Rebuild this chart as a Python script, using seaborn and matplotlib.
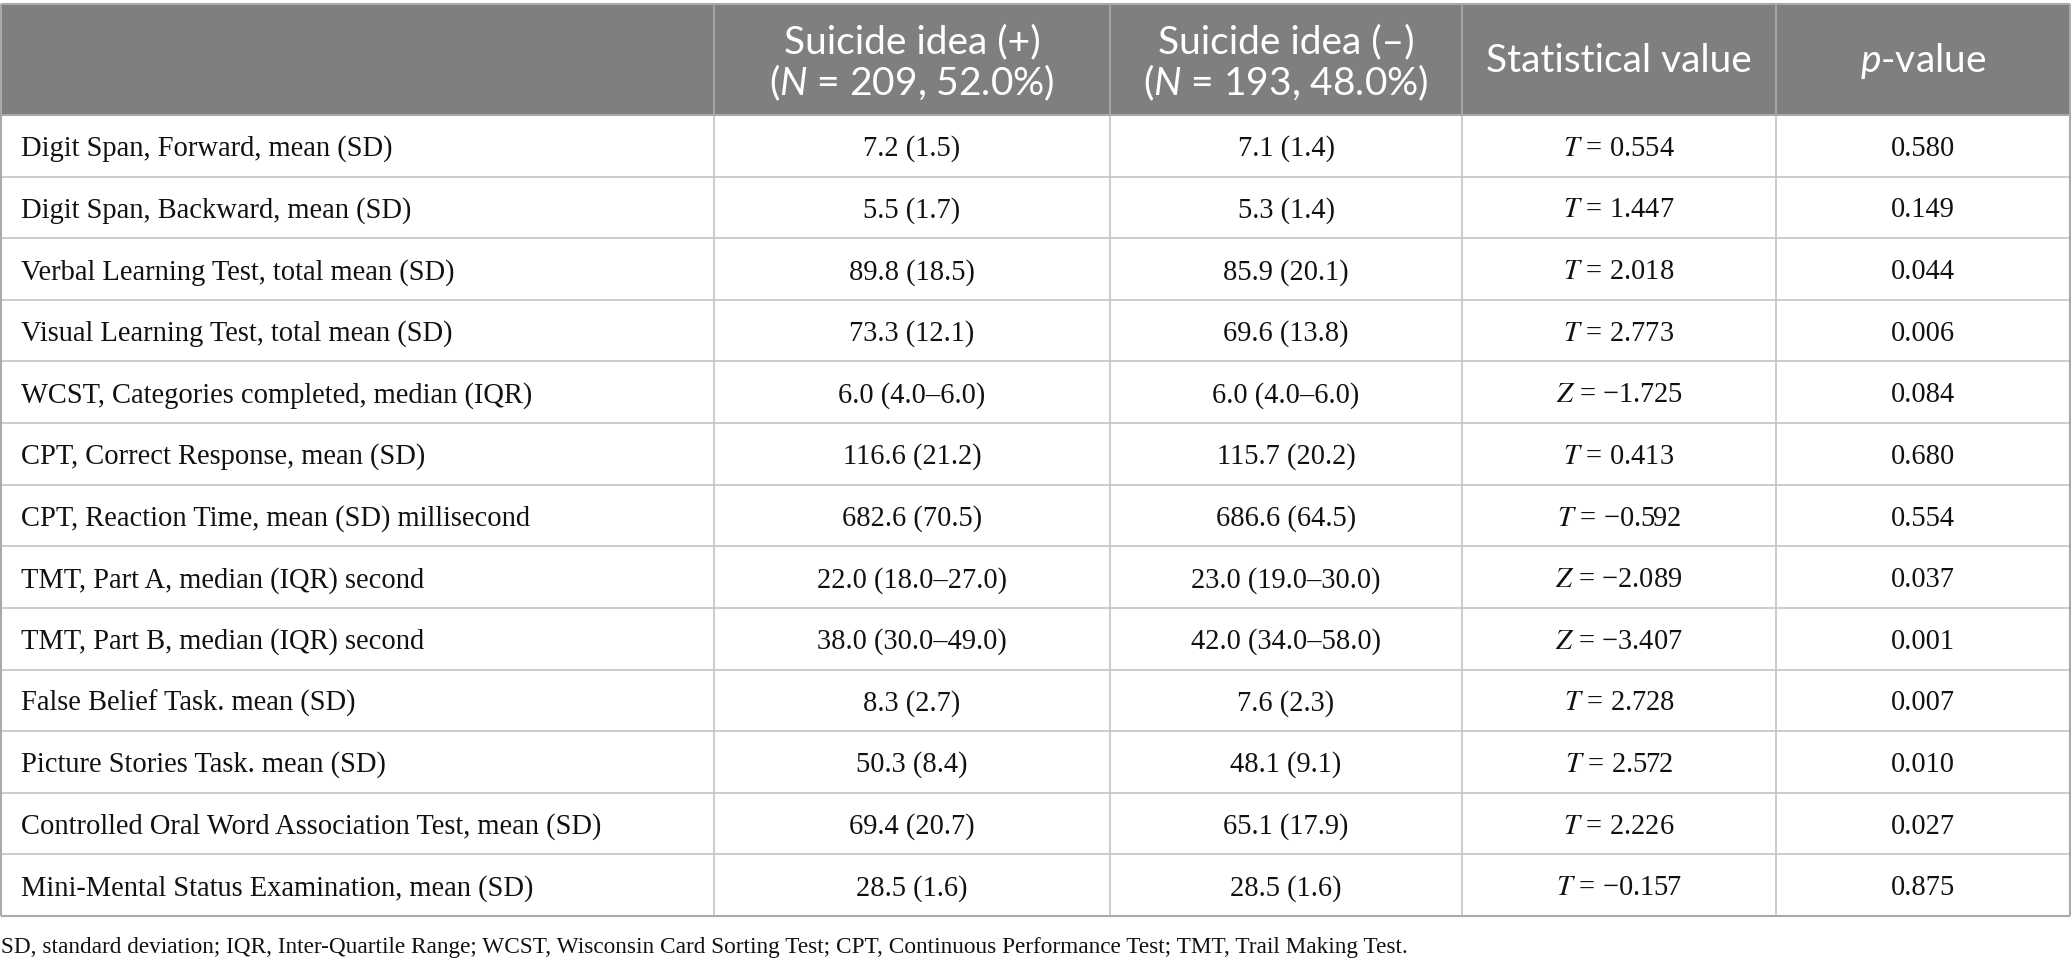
import matplotlib
matplotlib.use('Agg')
import matplotlib.pyplot as plt
import seaborn as sns

# table contents
measures = [
    'Digit Span, Forward, mean (SD)',
    'Digit Span, Backward, mean (SD)',
    'Verbal Learning Test, total mean (SD)',
    'Visual Learning Test, total mean (SD)',
    'WCST, Categories completed, median (IQR)',
    'CPT, Correct Response, mean (SD)',
    'CPT, Reaction Time, mean (SD) millisecond',
    'TMT, Part A, median (IQR) second',
    'TMT, Part B, median (IQR) second',
    'False Belief Task. mean (SD)',
    'Picture Stories Task. mean (SD)',
    'Controlled Oral Word Association Test, mean (SD)',
    'Mini-Mental Status Examination, mean (SD)',
]
si_pos = ['7.2 (1.5)', '5.5 (1.7)', '89.8 (18.5)', '73.3 (12.1)', '6.0 (4.0–6.0)',
          '116.6 (21.2)', '682.6 (70.5)', '22.0 (18.0–27.0)', '38.0 (30.0–49.0)',
          '8.3 (2.7)', '50.3 (8.4)', '69.4 (20.7)', '28.5 (1.6)']
si_neg = ['7.1 (1.4)', '5.3 (1.4)', '85.9 (20.1)', '69.6 (13.8)', '6.0 (4.0–6.0)',
          '115.7 (20.2)', '686.6 (64.5)', '23.0 (19.0–30.0)', '42.0 (34.0–58.0)',
          '7.6 (2.3)', '48.1 (9.1)', '65.1 (17.9)', '28.5 (1.6)']
stat_kind = ['T', 'T', 'T', 'T', 'Z', 'T', 'T', 'Z', 'Z', 'T', 'T', 'T', 'T']
stat_vals = [0.554, 1.447, 2.018, 2.773, -1.725, 0.413, -0.592, -2.089, -3.407,
             2.728, 2.572, 2.226, -0.157]
p_vals = [0.580, 0.149, 0.044, 0.006, 0.084, 0.680, 0.554, 0.037, 0.001,
          0.007, 0.010, 0.027, 0.875]
footnote = ('SD, standard deviation; IQR, Inter-Quartile Range; WCST, Wisconsin Card '
            'Sorting Test; CPT, Continuous Performance Test; TMT, Trail Making Test.')

sns.set_theme(style='white')
plt.rcParams['mathtext.fontset'] = 'custom'
plt.rcParams['mathtext.it'] = 'Lato:italic'
plt.rcParams['mathtext.rm'] = 'Lato'

W, H = 2071, 968
fig = plt.figure(figsize=(W / 100, H / 100), dpi=100)
ax = fig.add_axes([0, 0, 1, 1])
ax.set_xlim(0, W)
ax.set_ylim(H, 0)
ax.axis('off')
renderer = fig.canvas.get_renderer()


def fit(s, target, **kw):
    # font size that makes s about target pixels wide
    t = ax.text(0, 0, s, fontsize=20, **kw)
    w = t.get_window_extent(renderer).width
    t.remove()
    return 20 * target / w


serif = 'Liberation Serif'
sans = 'Lato'
body_fs = fit(measures[0], 374, family=serif)
head_fs = fit('Statistical value', 266, family=sans)
foot_fs = fit(footnote, 1403, family=serif)

# layout (pixels)
col_edges = [1, 714, 1110, 1462, 1776, 2070]
top, head_bot, bottom = 4, 115, 916
row_h = (bottom - head_bot) / len(measures)
grid = '#c4c4c4'
border = '#a9a9a9'

# header band
ax.fill_between([col_edges[0], col_edges[-1]], top, head_bot, color='#7f807e', lw=0)
for x in col_edges[1:-1]:
    ax.vlines(x, top, head_bot, color='#a3a4a2', lw=1.5)
    ax.vlines(x, head_bot, bottom, color=grid, lw=1.2)
for i in range(1, len(measures)):
    ax.hlines(head_bot + i * row_h, col_edges[0], col_edges[-1], color=grid, lw=1.2)
ax.hlines([top, head_bot, bottom], col_edges[0], col_edges[-1], color=border, lw=1.5)
ax.vlines([col_edges[0], col_edges[-1]], top, bottom, color=border, lw=1.5)

centers = [(col_edges[i] + col_edges[i + 1]) / 2 for i in range(len(col_edges) - 1)]
hk = dict(family=sans, fontsize=head_fs, color='white', ha='center', va='center')
ax.text(centers[1], 42, 'Suicide idea (+)', **hk)
ax.text(centers[1], 83, '($\\mathit{N}$ = 209, 52.0%)', **hk)
ax.text(centers[2], 42, 'Suicide idea (–)', **hk)
ax.text(centers[2], 83, '($\\mathit{N}$ = 193, 48.0%)', **hk)
ax.text(centers[3], 61, 'Statistical value', **hk)
ax.text(centers[4], 61, '$\\mathit{p}$-value', **hk)

bk = dict(family=serif, fontsize=body_fs, color='#111111', va='center')
for i, m in enumerate(measures):
    y = head_bot + (i + 0.5) * row_h + 3
    ax.text(21, y, m, ha='left', **bk)
    ax.text(centers[1], y, si_pos[i], ha='center', **bk)
    ax.text(centers[2], y, si_neg[i], ha='center', **bk)
    val = f'{stat_vals[i]:.3f}'.replace('-', '−')
    ax.text(centers[3], y, f'$\\mathit{{{stat_kind[i]}}}$ = {val}', ha='center',
            math_fontfamily='stix', **bk)
    ax.text(centers[4], y, f'{p_vals[i]:.3f}', ha='center', **bk)

ax.text(1, 948, footnote, family=serif, fontsize=foot_fs, color='#111111',
        ha='left', va='center')

fig.savefig('out.png', dpi=100)
